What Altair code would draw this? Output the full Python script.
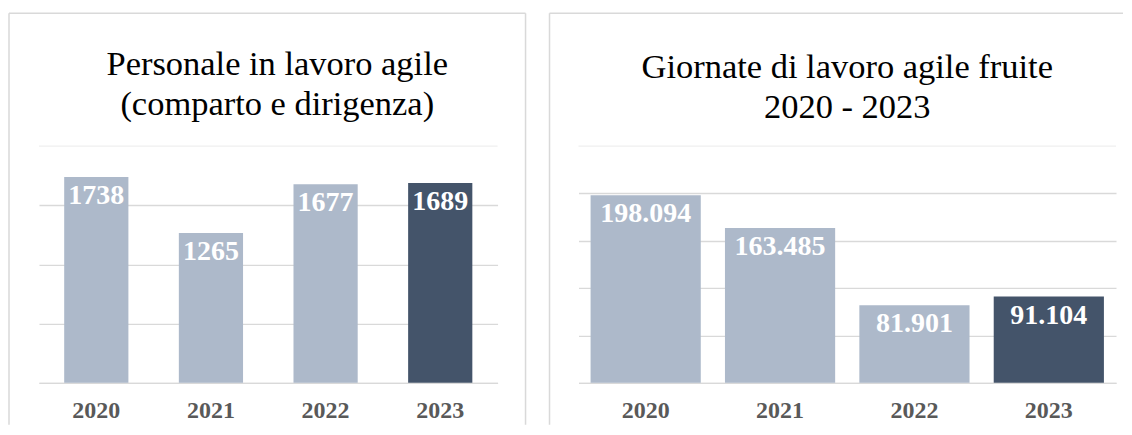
import altair as alt
import pandas as pd

# ---- data ----
anni = ["2020", "2021", "2022", "2023"]
personale = [1738, 1265, 1677, 1689]
giornate = [198094, 163485, 81901, 91104]
griglia_personale = [0, 500, 1000, 1500]
griglia_giornate = [0, 50000, 100000, 150000, 200000]
max_personale = 2000
max_giornate = 250000
titolo_sx = ["Personale in lavoro agile", "(comparto e dirigenza)"]
titolo_dx = ["Giornate di lavoro agile fruite", "2020 - 2023"]
anno_evidenziato = "2023"


def fmt_it(v):
    return f"{v:,}".replace(",", ".")


df_sx = pd.DataFrame({"anno": anni, "valore": personale,
                      "etichetta": [str(v) for v in personale]})
df_dx = pd.DataFrame({"anno": anni, "valore": giornate,
                      "etichetta": [fmt_it(v) for v in giornate]})

LIGHT = "#ADB9CA"
DARK = "#44546A"
GRID = "#D9D9D9"
TOPGRID = "#EFEFEF"
FONT = "Liberation Serif"
ONE = pd.DataFrame({"k": [0]})


def panel(df, width, height, ymax, yvals, pad_inner, title, title_dx,
          title_offset, fx1, fx2, right_edge):
    x = alt.X("anno:N", title=None,
              scale=alt.Scale(paddingInner=pad_inner, paddingOuter=pad_inner / 2),
              axis=alt.Axis(labelAngle=0, ticks=False, labelPadding=16,
                            labelFontSize=24, labelFontWeight="bold",
                            labelColor="#595959", labelFont=FONT,
                            domainColor=GRID, domainWidth=1.3))
    y = alt.Y("valore:Q", title=None,
              scale=alt.Scale(domain=[0, ymax], nice=False),
              axis=alt.Axis(values=yvals, labels=False, ticks=False, domain=False,
                            grid=True, gridColor=GRID, gridWidth=1.3))
    top_grid = alt.Chart(ONE).mark_rule(color=TOPGRID, strokeWidth=1.3).encode(
        x=alt.value(0), x2=alt.value(width), y=alt.value(0))
    bars = alt.Chart(df).mark_bar().encode(
        x=x, y=y,
        color=alt.condition(alt.datum.anno == anno_evidenziato,
                            alt.value(DARK), alt.value(LIGHT)))
    text = alt.Chart(df).mark_text(baseline="top", dy=5, font=FONT, fontSize=28,
                                   fontWeight="bold", color="white").encode(
        x="anno:N", y="valore:Q", text="etichetta:N")
    top_frame = alt.Chart(ONE).mark_rule(color=GRID, strokeWidth=1.5).encode(
        x=alt.value(fx1), x2=alt.value(fx2), y=alt.value(-133))
    left_frame = alt.Chart(ONE).mark_rule(color=GRID, strokeWidth=1.5).encode(
        x=alt.value(fx1), y=alt.value(-133), y2=alt.value(height + 42))
    layers = [top_frame, left_frame]
    if right_edge:
        layers.append(alt.Chart(ONE).mark_rule(color=GRID, strokeWidth=1.5).encode(
            x=alt.value(fx2), y=alt.value(-133), y2=alt.value(height + 42)))
    return alt.layer(top_grid, bars, text, *layers).properties(
        width=width, height=height,
        title=alt.TitleParams(text=title, fontSize=34.5, font=FONT,
                              fontWeight="normal", color="black", lineHeight=40,
                              anchor="middle", frame="group",
                              offset=title_offset, dx=title_dx))


left = panel(df_sx, 459, 237, max_personale, griglia_personale, 0.44,
             titolo_sx, 9, -110, -30, 487, True)
right = panel(df_dx, 538, 237, max_giornate, griglia_giornate, 0.18,
              titolo_dx, 0, -113, -29, 545, False)

chart = alt.hconcat(left, right, spacing=22).properties(
    padding={"left": 0, "top": 4, "right": 0, "bottom": 0}
).configure_view(stroke=None)

chart.save("out.html", embed_options={"renderer": "svg", "actions": False})
